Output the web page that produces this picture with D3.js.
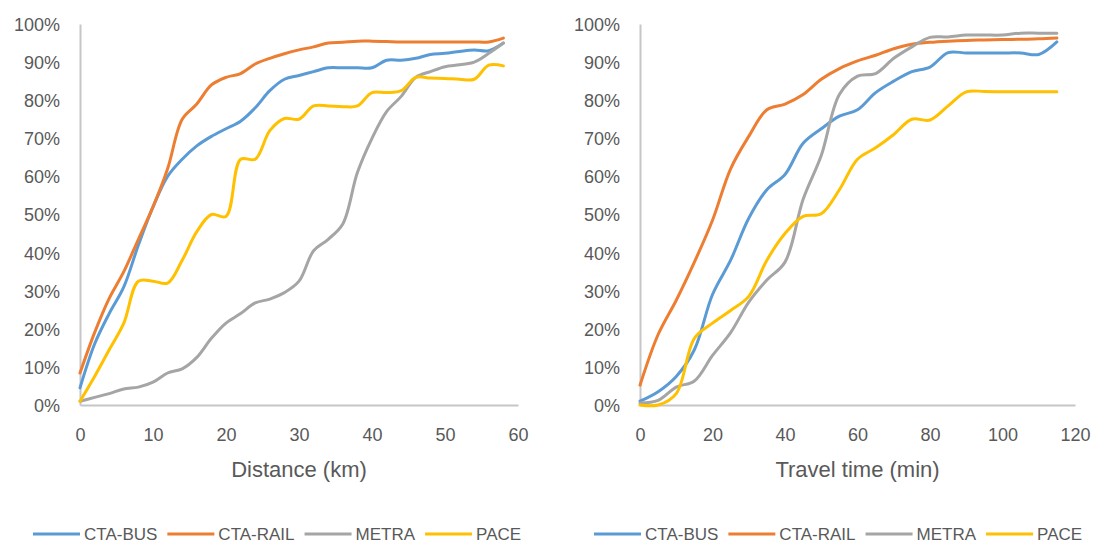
<!DOCTYPE html>
<html>
<head>
<meta charset="utf-8">
<script src="https://cdn.jsdelivr.net/npm/d3@7"></script>
<style>
  html, body { margin: 0; padding: 0; background: #fff; }
  svg { display: block; font-family: "Liberation Sans", Arial, sans-serif; }
  .axis text { fill: #595959; font-size: 18px; }
  .axis path { stroke: #c6c6c6; stroke-width: 2px; }
  .title { fill: #595959; font-size: 22px; text-anchor: middle; }
  .legend text { fill: #595959; font-size: 17px; }
</style>
</head>
<body>
<svg id="chart" width="1095" height="543"></svg>
<script>
// Cumulative share of trips by mode, against trip distance and travel time.
const seriesNames = ["CTA-BUS", "CTA-RAIL", "METRA", "PACE"];
const seriesColors = ["#5b9bd5", "#ed7d31", "#a5a5a5", "#ffc000"];

// Distance (km)
const distanceKm = [0, 2, 4, 6, 8, 10, 12, 14, 16, 18, 20, 22, 24, 26, 28, 30,
                    32, 34, 36, 38, 40, 42, 44, 46, 48, 50, 52, 54, 56, 58];
const distBus   = [4.5, 16, 24, 31, 42, 52, 60, 64.5, 68, 70.5, 72.5, 74.5, 78, 82.5, 85.5, 86.5,
                   87.5, 88.5, 88.5, 88.5, 88.5, 90.5, 90.5, 91, 92, 92.3, 92.8, 93.2, 93, 95];
const distRail  = [8.4, 19, 28, 35, 43.5, 52, 62, 75, 79, 84, 86, 87, 89.5, 91, 92.2, 93.2,
                   94, 95, 95.2, 95.5, 95.5, 95.4, 95.3, 95.3, 95.3, 95.3, 95.3, 95.3, 95.3, 96.3];
const distMetra = [1, 2, 3, 4.2, 4.7, 6, 8.4, 9.5, 12.5, 17.5, 21.5, 24, 26.8, 27.8, 29.5, 32.5,
                   40.5, 43.5, 47.5, 61, 70, 77, 81, 86, 87.5, 88.8, 89.3, 90, 92.3, 95];
const distPace  = [1, 7.5, 14.5, 21.5, 32.5, 32.5, 32, 38, 45.5, 50, 49.5, 64.5, 64.5, 72, 75.2, 75,
                   78.5, 78.5, 78.3, 78.5, 82, 82, 82.5, 86, 85.8, 85.7, 85.5, 85.5, 89.2, 89];

// Travel time (min)
const timeMin = [0, 5, 10, 15, 20, 25, 30, 35, 40, 45, 50, 55, 60, 65, 70, 75,
                 80, 85, 90, 95, 100, 105, 110, 115];
const timeBus   = [1, 3.5, 7.5, 14.5, 29, 38, 49, 56.5, 60.5, 68.7, 72.5, 75.8, 77.5, 82, 85, 87.5,
                   88.7, 92.5, 92.4, 92.4, 92.4, 92.4, 92, 95.3];
const timeRail  = [5.2, 18.5, 27.5, 37.5, 48.5, 62, 70.5, 77.5, 79, 81.5, 85.5, 88.3, 90.3, 91.8, 93.5, 94.7,
                   95.2, 95.5, 95.7, 95.8, 95.9, 96, 96.1, 96.3];
const timeMetra = [0.5, 1.2, 4.7, 6.3, 13, 19, 27, 32.8, 37.5, 54, 65.5, 81.5, 86.3, 87, 91, 94,
                   96.5, 96.6, 97.1, 97.1, 97.1, 97.6, 97.6, 97.6];
const timePace  = [0, 0, 3, 17.5, 21.5, 24.8, 28.5, 38, 45, 49.5, 50.2, 56.5, 64.5, 67.5, 71, 75,
                   74.8, 78.5, 82.2, 82.3, 82.2, 82.2, 82.2, 82.2];

const yTicks = [0, 0.1, 0.2, 0.3, 0.4, 0.5, 0.6, 0.7, 0.8, 0.9, 1.0];
const distTicks = [0, 10, 20, 30, 40, 50, 60];
const timeTicks = [0, 20, 40, 60, 80, 100, 120];

const svg = d3.select("#chart");

function drawPanel(cfg) {
  const x = d3.scaleLinear().domain(cfg.xDomain).range([cfg.left, cfg.right]);
  const y = d3.scaleLinear().domain([0, 1]).range([405, 24]);
  const g = svg.append("g");

  g.append("g").attr("class", "axis")
    .attr("transform", `translate(${cfg.left},0)`)
    .call(d3.axisLeft(y).tickValues(yTicks).tickFormat(d3.format(".0%"))
      .tickSize(0).tickPadding(20))
    .call(s => s.selectAll("text").attr("dy", "0.36em"));

  g.append("g").attr("class", "axis")
    .attr("transform", "translate(0,405)")
    .call(d3.axisBottom(x).tickValues(cfg.ticks).tickFormat(d3.format("d"))
      .tickSize(0).tickPadding(23));

  g.append("text").attr("class", "title")
    .attr("x", (cfg.left + cfg.right) / 2).attr("y", 477)
    .text(cfg.title);

  const line = d3.line()
    .x((d, i) => x(cfg.xs[i]))
    .y(d => y(d / 100))
    .curve(d3.curveCatmullRom.alpha(0.5));

  cfg.series.forEach((vals, k) => {
    g.append("path")
      .attr("d", line(vals))
      .attr("fill", "none")
      .attr("stroke", seriesColors[k])
      .attr("stroke-width", 3)
      .attr("stroke-linejoin", "round")
      .attr("stroke-linecap", "round");
  });

  // legend along the bottom
  const lg = g.append("g").attr("class", "legend");
  let cx = cfg.legendX;
  seriesNames.forEach((name, k) => {
    lg.append("line")
      .attr("x1", cx).attr("x2", cx + 47)
      .attr("y1", 534).attr("y2", 534)
      .attr("stroke", seriesColors[k]).attr("stroke-width", 3);
    const t = lg.append("text").attr("x", cx + 51).attr("y", 540).text(name);
    cx += 51 + t.node().getComputedTextLength() + 10;
  });
}

drawPanel({
  left: 80, right: 518, xDomain: [0, 60], ticks: distTicks,
  xs: distanceKm, series: [distBus, distRail, distMetra, distPace],
  title: "Distance (km)", legendX: 33
});

drawPanel({
  left: 640, right: 1075, xDomain: [0, 120], ticks: timeTicks,
  xs: timeMin, series: [timeBus, timeRail, timeMetra, timePace],
  title: "Travel time (min)", legendX: 594
});
</script>
</body>
</html>
